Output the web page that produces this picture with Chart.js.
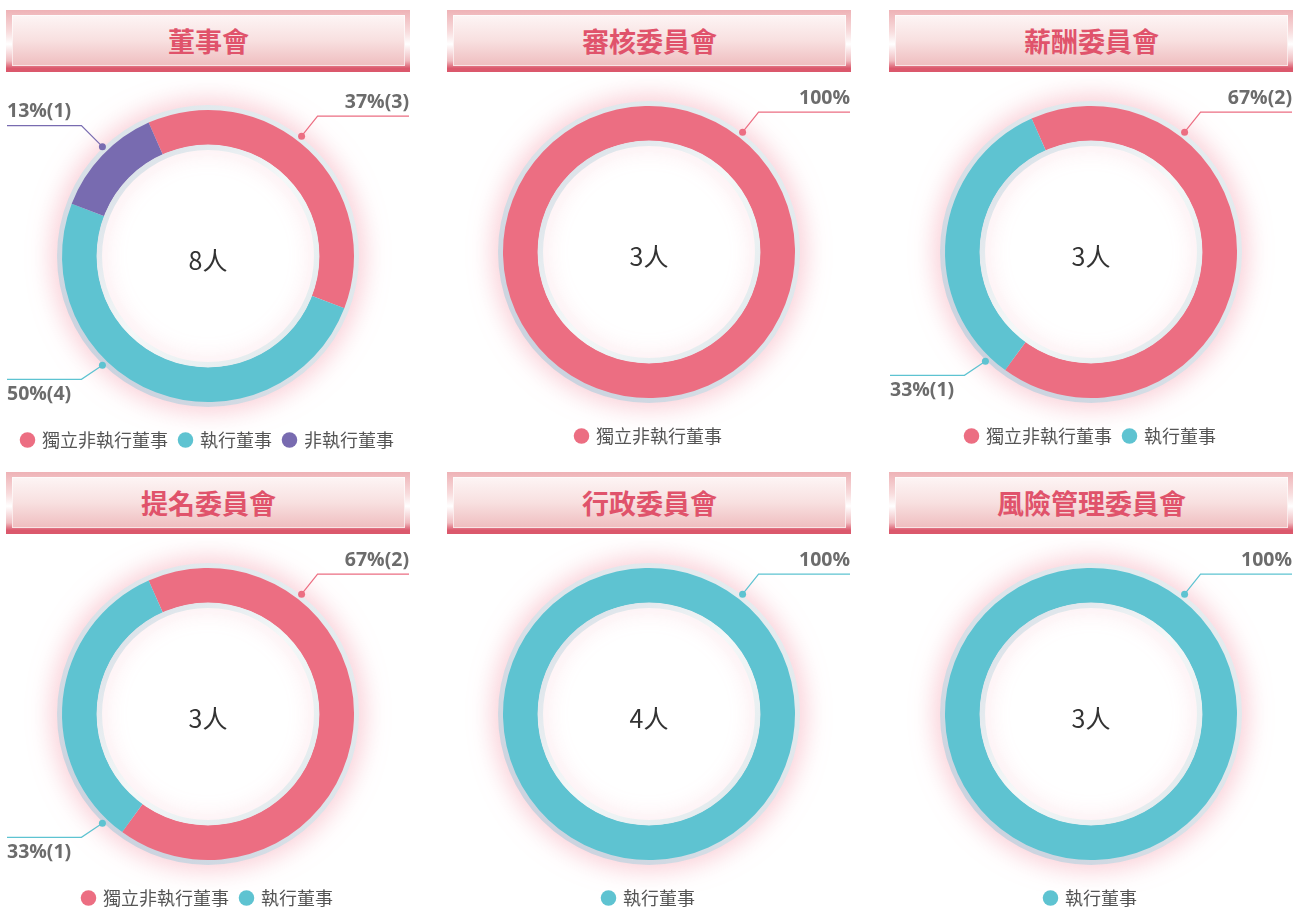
<!DOCTYPE html>
<html lang="zh-Hant">
<head>
<meta charset="utf-8">
<title>董事會及委員會組成</title>
<script src="https://cdn.jsdelivr.net/npm/chart.js@4.4.1/dist/chart.umd.min.js"></script>
<style>
html, body { margin: 0; padding: 0; background: #fff; width: 1300px; height: 908px; overflow: hidden; }
.hdr {
    position: absolute; width: 404px; height: 62px; box-sizing: border-box;
    background: linear-gradient(to bottom, #eeb2b6 0%, #f8dcdd 35%, #fff 55%, #f0bcc0 82%, #db586c 94%, #db586c 100%);
}
.hdr .inner {
    position: absolute; left: 6px; right: 5px; top: 5px; bottom: 6px;
    background: linear-gradient(to bottom, #fdf5f5 0%, #f8e0e0 50%, #efbdbf 100%);
    box-shadow: inset 0 0 0 1px rgba(255,255,255,0.6);
    display: flex; align-items: center; justify-content: center;
    font: bold 27px "Noto Sans CJK TC", sans-serif; color: #e0536b;
}
canvas.donut { position: absolute; }
</style>
</head>
<body>
<script>
// Board / committee composition
const boardNames = ['董事會', '審核委員會', '薪酬委員會', '提名委員會', '行政委員會', '風險管理委員會'];
const categories = ['獨立非執行董事', '執行董事', '非執行董事'];
const independentCount = [3, 3, 2, 2, 0, 0];
const executiveCount = [4, 0, 1, 1, 4, 3];
const nonExecCount = [1, 0, 0, 0, 0, 0];
const independentPct = [37, 100, 67, 67, 0, 0];
const executivePct = [50, 0, 33, 33, 100, 100];
const nonExecPct = [13, 0, 0, 0, 0, 0];

const colors = ['#ec6e82', '#5ec3d1', '#786bb0'];
const slotOf = ['tr', 'bl', 'tl'];
const panelLeft = [6, 447, 889];

// where each percentage callout sits around the ring
const slotGeom = {
    tr: { deg: 38, dx: 16, dy: -20, side: 1, textDy: -14 },
    tl: { deg: -44, dx: -21, dy: -21, side: -1, textDy: -14 },
    bl: { deg: 224, dx: -21, dy: 14, side: -1, textDy: 15 }
};

// glow + grey outer band + inner light ring
const ringDecor = {
    id: 'ringDecor',
    beforeDatasetsDraw(chart) {
        const arc = chart.getDatasetMeta(0).data[0];
        const { x, y, outerRadius } = arc.getProps(['x', 'y', 'outerRadius'], true);
        const ctx = chart.ctx;
        ctx.save();
        ctx.shadowColor = 'rgba(240,105,130,0.55)';
        ctx.shadowBlur = 28;
        const g = ctx.createLinearGradient(x - outerRadius, y + outerRadius, x + outerRadius, y - outerRadius);
        g.addColorStop(0, '#c4cddb');
        g.addColorStop(0.5, '#dbe3e9');
        g.addColorStop(1, '#e8eff1');
        ctx.fillStyle = g;
        ctx.beginPath();
        ctx.arc(x, y, outerRadius + 5, 0, Math.PI * 2);
        ctx.arc(x, y, outerRadius - 12, 0, Math.PI * 2, true);
        ctx.fill();
        ctx.restore();
    },
    afterDatasetsDraw(chart) {
        const arc = chart.getDatasetMeta(0).data[0];
        const { x, y, innerRadius } = arc.getProps(['x', 'y', 'innerRadius'], true);
        const ctx = chart.ctx;
        ctx.save();
        ctx.beginPath();
        ctx.arc(x, y, innerRadius + 0.5, 0, Math.PI * 2);
        ctx.clip();
        ctx.shadowColor = 'rgba(240,120,145,0.35)';
        ctx.shadowBlur = 22;
        const g = ctx.createLinearGradient(x - innerRadius, y - innerRadius, x + innerRadius, y + innerRadius);
        g.addColorStop(0, '#d3dbe4');
        g.addColorStop(0.5, '#f4f8f8');
        g.addColorStop(1, '#dce6ea');
        ctx.fillStyle = g;
        ctx.beginPath();
        ctx.arc(x, y, innerRadius + 1, 0, Math.PI * 2);
        ctx.arc(x, y, innerRadius - 5, 0, Math.PI * 2, true);
        ctx.fill();
        ctx.restore();
    }
};

// percentage callouts and centre total
const callouts = {
    id: 'callouts',
    afterDraw(chart) {
        const ctx = chart.ctx;
        const meta = chart.getDatasetMeta(0);
        const ds = chart.data.datasets[0];
        let total = 0;
        ds.data.forEach(v => total += v);
        meta.data.forEach((arc, i) => {
            const { x, y, outerRadius } = arc.getProps(['x', 'y', 'outerRadius'], true);
            const geo = slotGeom[meta.data.length === 1 ? 'tr' : ds.slot[i]];
            const a = (geo.deg - 90) * Math.PI / 180;
            const r = outerRadius + 6;
            const px = x + r * Math.cos(a), py = y + r * Math.sin(a);
            const ex = px + geo.dx, ey = py + geo.dy;
            const endX = geo.side > 0 ? chart.width - 1 : 1;
            const col = ds.backgroundColor[i];
            ctx.save();
            ctx.strokeStyle = col;
            ctx.lineWidth = 1.2;
            ctx.beginPath();
            ctx.moveTo(px, py);
            ctx.lineTo(ex, ey);
            ctx.lineTo(endX, ey);
            ctx.stroke();
            ctx.fillStyle = col;
            ctx.beginPath();
            ctx.arc(px, py, 3.5, 0, Math.PI * 2);
            ctx.fill();
            const pct = ds.pct[i];
            const txt = pct === 100 ? '100%' : pct + '%(' + ds.data[i] + ')';
            ctx.font = 'bold 19.5px "Open Sans", sans-serif';
            ctx.fillStyle = '#6c6c6c';
            ctx.textBaseline = 'middle';
            ctx.textAlign = geo.side > 0 ? 'right' : 'left';
            ctx.fillText(txt, endX, ey + geo.textDy);
            ctx.restore();
        });
        const c = meta.data[0].getProps(['x', 'y'], true);
        ctx.save();
        ctx.font = '25px "Noto Sans CJK TC", sans-serif';
        ctx.fillStyle = '#333';
        ctx.textAlign = 'center';
        ctx.textBaseline = 'middle';
        ctx.fillText(total + '人', c.x, c.y + 4);
        ctx.restore();
    }
};

const counts = [independentCount, executiveCount, nonExecCount];
const pcts = [independentPct, executivePct, nonExecPct];

boardNames.forEach((name, i) => {
    const left = panelLeft[i % 3];
    const rowTop = Math.floor(i / 3) * 462;

    const hdr = document.createElement('div');
    hdr.className = 'hdr';
    hdr.style.left = left + 'px';
    hdr.style.top = (10 + rowTop) + 'px';
    hdr.innerHTML = '<div class="inner">' + name + '</div>';
    document.body.appendChild(hdr);

    const cv = document.createElement('canvas');
    cv.className = 'donut';
    cv.width = 404;
    cv.height = 390;
    cv.style.left = left + 'px';
    cv.style.top = (76 + rowTop + (i === 0 ? 4 : 0)) + 'px';
    document.body.appendChild(cv);

    const idx = [0, 1, 2].filter(k => counts[k][i] > 0);

    new Chart(cv.getContext('2d'), {
        type: 'doughnut',
        data: {
            labels: idx.map(k => categories[k]),
            datasets: [{
                data: idx.map(k => counts[k][i]),
                backgroundColor: idx.map(k => colors[k]),
                pct: idx.map(k => pcts[k][i]),
                slot: idx.map(k => slotOf[k]),
                borderWidth: 0,
                hoverOffset: 0
            }]
        },
        options: {
            responsive: false,
            animation: false,
            radius: 146,
            cutout: '76%',
            rotation: -24,
            layout: { padding: { top: 13, bottom: 11 } },
            plugins: {
                tooltip: { enabled: false },
                legend: {
                    position: 'bottom',
                    labels: {
                        usePointStyle: true,
                        pointStyle: 'circle',
                        boxWidth: 11,
                        boxHeight: 11,
                        padding: 12,
                        color: '#555',
                        font: { family: '"Noto Sans CJK TC", sans-serif', size: 18 }
                    }
                }
            }
        },
        plugins: [ringDecor, callouts]
    });
});
</script>
</body>
</html>
